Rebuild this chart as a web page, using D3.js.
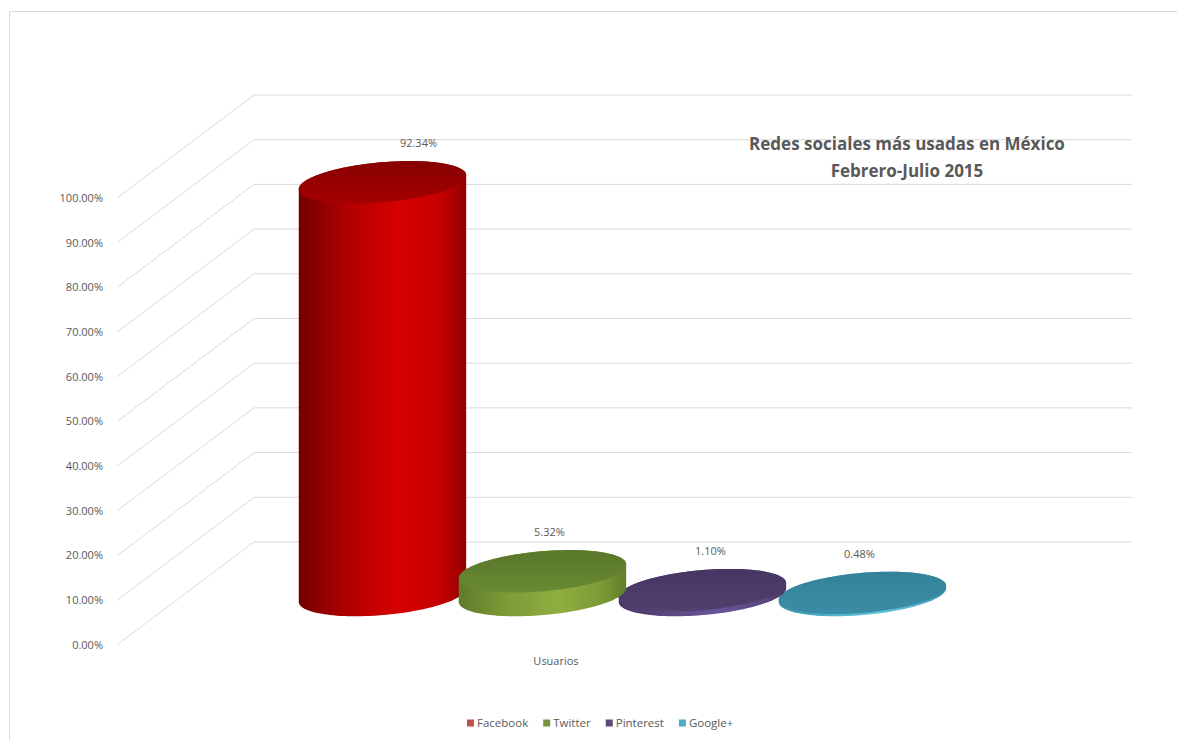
<!DOCTYPE html>
<html>
<head>
<meta charset="utf-8">
<script src="https://cdn.jsdelivr.net/npm/d3@7"></script>
<style>
  body { margin: 0; background: #fff; }
  text { font-family: "Open Sans", sans-serif; }
</style>
</head>
<body>
<div id="chart"></div>
<script>
// data
const category = ["Usuarios"];
const series = ["Facebook", "Twitter", "Pinterest", "Google+"];
const values = [92.34, 5.32, 1.10, 0.48];
const yTicks = [0, 10, 20, 30, 40, 50, 60, 70, 80, 90, 100];
const titleLines = ["Redes sociales más usadas en México", "Febrero-Julio 2015"];

// styles
const sideStops = [
  ["#720000", "#b40000", "#d80000", "#c40000", "#900000"],
  ["#5f7a2a", "#7f9c38", "#8fae40", "#7d9a37", "#627e2c"],
  ["#4a3866", "#5a4880", "#67549a", "#5a4880", "#4a3866"],
  ["#3a90a8", "#4fb0c8", "#60c4dc", "#4fb0c8", "#3a90a8"]
];
const topColors = [["#860000", "#a60000"], ["#5a772b", "#688a33"], ["#463562", "#50406e"], ["#33829a", "#3b8da6"]];
const legendColors = ["#c0504d", "#77933c", "#5f497a", "#4bacc6"];
const labelDx = [36, 7, 8, -3];
const drawOrder = [0, 3, 2, 1];

const W = 1177, H = 740;
const depth = [137, -103];      // oblique vector of the back wall
const barDepth = 0.485;          // where the cylinders stand
const rx = 84, ry = 20, phi = -5 * Math.PI / 180;

const svg = d3.select("#chart").append("svg").attr("width", W).attr("height", H);

// outer border (top and left only visible)
svg.append("path").attr("d", `M9.5,${H} V11.5 H${W}`).attr("fill", "none").attr("stroke", "#d9d9d9");

const y = d3.scaleLinear().domain([0, 100]).range([645, 198]);
const x0 = d3.scaleBand().domain(category).range([117, 995]).paddingOuter(0.186);
const x1 = d3.scaleBand().domain(series).range([0, x0.bandwidth()]);

// grid: side wall diagonals + back wall lines
const grid = svg.append("g").attr("stroke", "#d9d9d9").attr("fill", "none");
grid.selectAll(".diag").data(yTicks).join("line")
  .attr("x1", 117).attr("y1", d => y(d))
  .attr("x2", 117 + depth[0]).attr("y2", d => y(d) + depth[1]);
grid.selectAll(".back").data(yTicks).join("line")
  .attr("x1", 117 + depth[0]).attr("y1", d => y(d) + depth[1])
  .attr("x2", 995 + depth[0]).attr("y2", d => y(d) + depth[1]);

// y labels
svg.append("g").selectAll("text").data(yTicks).join("text")
  .attr("x", 103).attr("y", d => y(d)).attr("dy", "0.35em")
  .attr("text-anchor", "end").attr("font-size", 11).attr("fill", "#595959")
  .text(d => d3.format(".2f")(d) + "%");

// gradients
const defs = svg.append("defs");
series.forEach((s, i) => {
  const g = defs.append("linearGradient").attr("id", "side" + i).attr("x1", 0).attr("x2", 1).attr("y1", 0).attr("y2", 0);
  sideStops[i].forEach((c, k) => g.append("stop").attr("offset", [0, 0.3, 0.6, 0.85, 1][k]).attr("stop-color", c));
  const t = defs.append("linearGradient").attr("id", "top" + i).attr("x1", 0).attr("x2", 0).attr("y1", 0).attr("y2", 1);
  t.append("stop").attr("offset", 0).attr("stop-color", topColors[i][0]);
  t.append("stop").attr("offset", 1).attr("stop-color", topColors[i][1]);
});

function ell(cx, cy, t) {
  return [cx + rx * Math.cos(t) * Math.cos(phi) - ry * Math.sin(t) * Math.sin(phi),
          cy + rx * Math.cos(t) * Math.sin(phi) + ry * Math.sin(t) * Math.cos(phi)];
}
const t0 = Math.atan2(-ry * Math.sin(phi), rx * Math.cos(phi));
const line = d3.line();

const bars = svg.append("g");
drawOrder.forEach(i => {
  const s = series[i];
  const cx = x0(category[0]) + x1(s) + x1.bandwidth() / 2 + depth[0] * barDepth;
  const by = y(0) + depth[1] * barDepth;
  const ty = y(values[i]) + depth[1] * barDepth;
  const n = 60;
  const pts = [];
  // bottom front arc, left -> right
  for (let k = 0; k <= n; k++) pts.push(ell(cx, by, t0 + Math.PI - Math.PI * k / n));
  // top back arc, right -> left
  for (let k = 0; k <= n; k++) pts.push(ell(cx, ty, t0 - Math.PI * k / n));
  bars.append("path").attr("d", line(pts) + "Z").attr("fill", `url(#side${i})`);
  const topPts = d3.range(0, 121).map(k => ell(cx, ty, 2 * Math.PI * k / 120));
  bars.append("path").attr("d", line(topPts) + "Z").attr("fill", `url(#top${i})`);
  svg.append("text").attr("x", cx + labelDx[i]).attr("y", ty - 39).attr("dy", "0.35em")
    .attr("text-anchor", "middle").attr("font-size", 11).attr("fill", "#595959")
    .text(d3.format(".2f")(values[i]) + "%");
});

// category label
svg.append("text").attr("x", x0(category[0]) + x0.bandwidth() / 2).attr("y", 661).attr("dy", "0.35em")
  .attr("text-anchor", "middle").attr("font-size", 11).attr("fill", "#595959").text(category[0]);

// title
svg.append("g").selectAll("text").data(titleLines).join("text")
  .attr("x", 907).attr("y", (d, i) => 144 + i * 27).attr("dy", "0.35em")
  .attr("text-anchor", "middle").attr("font-size", 17).attr("font-weight", "bold").attr("fill", "#595959")
  .text(d => d);

// legend
const leg = svg.append("g").attr("transform", "translate(467,723)");
let lx = 0;
series.forEach((s, i) => {
  const g = leg.append("g").attr("transform", `translate(${lx},0)`);
  g.append("rect").attr("x", 0).attr("y", -3.5).attr("width", 7).attr("height", 7).attr("fill", legendColors[i]);
  const t = g.append("text").attr("x", 10).attr("dy", "0.35em").attr("font-size", 11.5).attr("fill", "#595959").text(s);
  lx += 10 + t.node().getComputedTextLength() + 15;
});
</script>
</body>
</html>
